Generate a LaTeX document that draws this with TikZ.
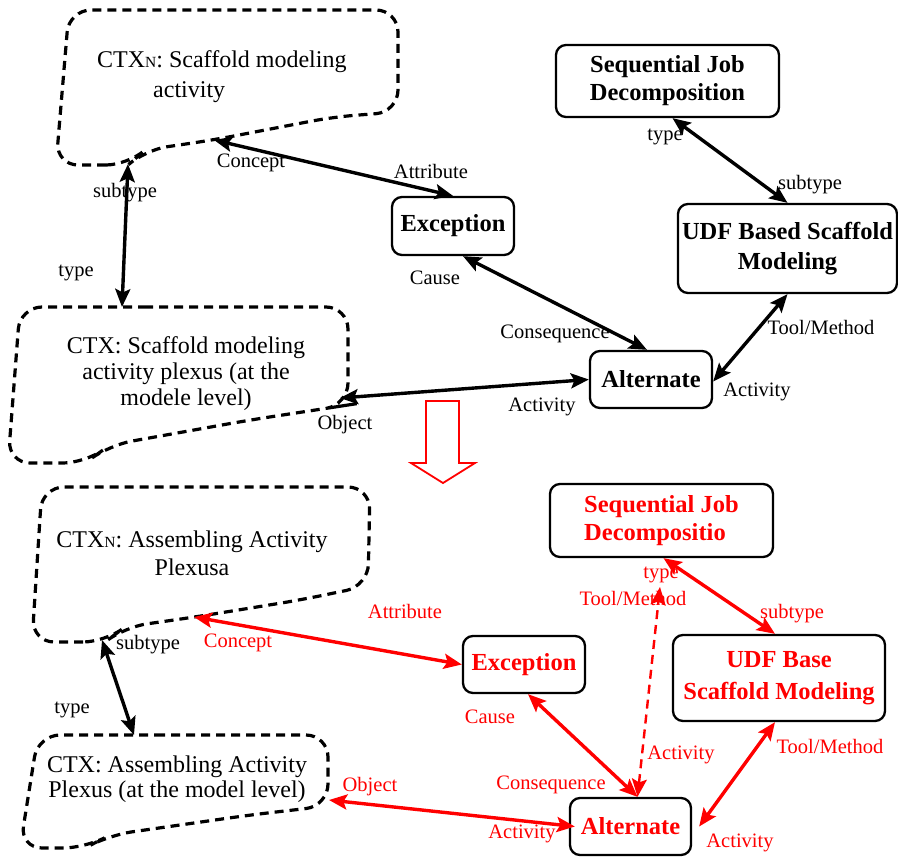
\documentclass[tikz,border=0pt]{standalone}
\usepackage{fontspec}
\setmainfont{Liberation Serif}
\usetikzlibrary{arrows.meta,calc}

\newcommand\lblfont{\fontsize{20.5}{23}\selectfont}
\newcommand\ctxfont{\fontsize{24}{29}\selectfont}
\newcommand\bxfont{\fontsize{24.5}{28}\selectfont\bfseries}
\newcommand\subN{{\fontsize{15.5}{15.5}\selectfont N}}

\tikzset{
  cloudline/.style={draw=black, line width=3.2pt, dash pattern=on 9pt off 6pt, rounded corners=22pt},
  tip/.tip={Stealth[length=18pt,width=15pt,inset=3.5pt]},
  conn/.style={line width=3.4pt, tip-tip},
  redconn/.style={conn, color=red},
  box/.style={draw, line width=2.3pt, rounded corners=10pt, font=\bxfont, align=center, inner sep=0pt},
  lbl/.style={font=\lblfont, inner sep=0pt},
  rlbl/.style={lbl, text=red},
  ctxt/.style={font=\ctxfont, inner sep=0pt}
}

\begin{document}
\begin{tikzpicture}[x=1pt, y=-1pt]
\useasboundingbox (0,0) rectangle (898,857);

% ---------- upper model ----------
% context clouds
\draw[cloudline] (128,165) -- (56,165) -- (69,10) -- (398,10) -- (398,112)
  -- (333,117) -- (213,140) -- (145,150) -- cycle;
\node[ctxt, anchor=base west, align=left, font=\fontsize{24}{30}\selectfont] (ctxn1) at (97,97)
  {CTX\subN: Scaffold modeling\\\hspace*{56pt}activity};
\coordinate (c1sub) at (128,164);
\coordinate (c1con) at (214,140);

\draw[cloudline] (122,307) -- (348,307) -- (348,405) -- (335,407)
  -- (250,420) -- (110,445) -- (85,463) -- (8,463) -- (20,307) -- cycle;
\node[ctxt, anchor=base, align=center, font=\fontsize{24}{26}\selectfont] (ctx1) at (186,405)
  {CTX: Scaffold modeling\\activity plexus (at the\\modele level)};
\coordinate (c2type) at (122,307);
\coordinate (c2obj) at (340,398);

% boxes
\node[box, minimum width=223pt, minimum height=72pt] (sjd1) at (667.5,81)
  {Sequential Job\\Decomposition};
\node[box, minimum width=122pt, minimum height=58pt] (exc1) at (453,226) {Exception};
\node[box, minimum width=219pt, minimum height=89pt, font=\fontsize{24.5}{30}\selectfont\bfseries] (udf1) at (787.5,248.5)
  {UDF Based Scaffold\\Modeling};
\node[box, minimum width=122pt, minimum height=57pt] (alt1) at (651,379.5) {Alternate};

% connectors
\draw[conn] (c1sub) -- (c2type);
\draw[conn] (c1con) -- (exc1.north);
\draw[conn] ([xshift=10pt]exc1.south) -- ([xshift=-4pt]alt1.north);
\draw[conn] (c2obj) -- (alt1.west);
\draw[conn] (udf1.south) -- ([yshift=-2pt]alt1.east);
\draw[conn] ([xshift=5pt]sjd1.south) -- (udf1.north);

% labels
\node[lbl] (l1) at (125,193) {subtype};
\node[lbl] (l2) at (76,273) {type};
\node[lbl] (l3) at (251,163) {Concept};
\node[lbl] (l4) at (431,171) {Attribute};
\node[lbl] (l5) at (435,278) {Cause};
\node[lbl] (l6) at (555,334) {Consequence};
\node[lbl] (l7) at (345,425) {Object};
\node[lbl] (l8) at (542,407) {Activity};
\node[lbl] (l9) at (821,327) {Tool/Method};
\node[lbl] (l10) at (757,392) {Activity};
\node[lbl] (l11) at (665,137) {type};
\node[lbl] (l12) at (810,185) {subtype};

% transition arrow
\draw[red, line width=1.8pt, line join=miter] (426,401) -- (459,401) -- (459,463) -- (475,463)
  -- (443,483) -- (411,463) -- (426,463) -- cycle;

% ---------- lower model ----------
\draw[cloudline] (105,642) -- (32,642) -- (42,487) -- (370,487) -- (368,586)
  -- (300,600) -- (195,617) -- (125,627) -- cycle;
\node[ctxt, anchor=base, align=center, font=\fontsize{24}{28}\selectfont] (ctxn2) at (192,575)
  {CTX\subN: Assembling Activity\\Plexusa};
\coordinate (c3sub) at (102,640);
\coordinate (c3con) at (194,617);

\draw[cloudline] (134,735) -- (328,735) -- (328,806) -- (250,815)
  -- (110,835) -- (85,848) -- (20,848) -- (38,735) -- cycle;
\node[ctxt, anchor=base, align=center, font=\fontsize{24}{25}\selectfont] (ctx2) at (177,797)
  {CTX: Assembling Activity\\Plexus (at the model level)};
\coordinate (c4type) at (134,735);
\coordinate (c4obj) at (329,800);

\node[box, minimum width=223pt, minimum height=73pt, text=red, align=left] (sjd2) at (661.5,520.5)
  {Sequential Job\\Decompositio};
\node[box, minimum width=122pt, minimum height=57pt, text=red] (exc2) at (524,664.5) {Exception};
\node[box, minimum width=212pt, minimum height=86pt, text=red, font=\fontsize{24.5}{32}\selectfont\bfseries] (udf2) at (779,678)
  {UDF Base\\Scaffold Modeling};
\node[box, minimum width=121pt, minimum height=57pt, text=red] (alt2) at (630.5,826.5) {Alternate};

\coordinate (tmtip) at (660,587);

\draw[conn] (c3sub) -- (c4type);
\draw[redconn] (c3con) -- (exc2.west);
\draw[redconn] ([xshift=4pt]exc2.south) -- ([xshift=7pt]alt2.north);
\draw[redconn, line width=2.4pt, dash pattern=on 9pt off 6pt] ([xshift=7pt]alt2.north) -- (tmtip);
\draw[redconn] (c4obj) -- ([xshift=6pt]alt2.west);
\draw[redconn] ([xshift=2pt]sjd2.south) -- ([xshift=-4pt]udf2.north);
\draw[redconn] ([xshift=-4pt]udf2.south) -- ([xshift=7pt]alt2.east);

\node[lbl] (m1) at (148,645) {subtype};
\node[lbl] (m2) at (72,710) {type};
\node[rlbl] (m3) at (238,643) {Concept};
\node[rlbl] (m4) at (405,611) {Attribute};
\node[rlbl] (m5) at (370,787) {Object};
\node[rlbl] (m6) at (522,834) {Activity};
\node[rlbl] (m7) at (490,717) {Cause};
\node[rlbl] (m8) at (551,785) {Consequence};
\node[rlbl] (m9) at (681,755) {Activity};
\node[rlbl] (m10) at (633,598) {Tool/Method};
\node[rlbl] (m11) at (661,575) {type};
\node[rlbl] (m12) at (792,614) {subtype};
\node[rlbl] (m13) at (830,746) {Tool/Method};
\node[rlbl] (m14) at (740,843) {Activity};
\end{tikzpicture}
\end{document}
